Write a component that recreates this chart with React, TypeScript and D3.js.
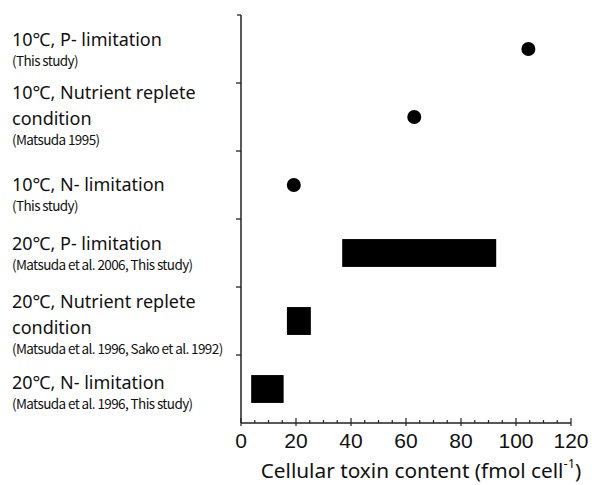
import React from "react";
import * as d3 from "d3";

// ---- data ----
const categories: string[] = [
  "10℃, P- limitation",
  "10℃, Nutrient replete condition",
  "10℃, N- limitation",
  "20℃, P- limitation",
  "20℃, Nutrient replete condition",
  "20℃, N- limitation",
];
const labelLines: string[][] = [
  ["10℃, P- limitation"],
  ["10℃, Nutrient replete", "condition"],
  ["10℃, N- limitation"],
  ["20℃, P- limitation"],
  ["20℃, Nutrient replete", "condition"],
  ["20℃, N- limitation"],
];
const sources: string[] = [
  "(This study)",
  "(Matsuda 1995)",
  "(This study)",
  "(Matsuda et al. 2006, This study)",
  "(Matsuda et al. 1996, Sako et al. 1992)",
  "(Matsuda et al. 1996, This study)",
];
const minValues: number[] = [104.5, 63, 19.2, 36.8, 16.7, 3.7];
const maxValues: number[] = [104.5, 63, 19.2, 92.8, 25.4, 15.5];
const xTicks: number[] = [0, 20, 40, 60, 80, 100, 120];
const xLabel = "Cellular toxin content (fmol cell";
const xLabelSup = "-1";

// ---- layout ----
const W = 595;
const H = 485;
const M = { left: 241, right: 571, top: 15, bottom: 423 };
const labelX = 12;
// baseline of first main line relative to band center
const labelOffsets = [-3, -18, 6, -3.5, -13.5, -0.5];
const mainFont = "'Noto Sans', 'Noto Sans CJK JP', sans-serif";

export default function App() {
  const x = d3.scaleLinear().domain([0, 120]).range([M.left, M.right]);
  const y = d3
    .scaleBand<string>()
    .domain(categories)
    .range([M.top, M.bottom])
    .paddingInner(0)
    .paddingOuter(0);
  const bw = y.bandwidth();
  const barH = bw * 0.41;
  const minor = d3.range(0, 121, 5);
  const boundaries = categories.map((c) => y(c)!);

  return (
    <svg
      width={W}
      height={H}
      style={{ position: "absolute", left: 0, top: 0, background: "#fff" }}
    >
      {/* y axis */}
      <line x1={M.left} x2={M.left} y1={M.top} y2={M.bottom} stroke="#222" strokeWidth={1.5} />
      {boundaries.map((b, i) => (
        <line key={i} x1={M.left - (i === 0 ? 4 : 5)} x2={M.left} y1={b} y2={b} stroke="#222" strokeWidth={1.3} />
      ))}
      {/* x axis */}
      <line x1={M.left} x2={M.right} y1={M.bottom} y2={M.bottom} stroke="#222" strokeWidth={1.5} />
      {minor.map((v) => (
        <line
          key={v}
          x1={x(v)}
          x2={x(v)}
          y1={M.bottom - (v % 20 === 0 ? 5 : 3)}
          y2={M.bottom + (v % 20 === 0 ? 3 : 0)}
          stroke="#222"
          strokeWidth={1.2}
        />
      ))}
      {xTicks.map((v) => (
        <text
          key={v}
          x={x(v)}
          y={448}
          textAnchor="middle"
          fontFamily="'Liberation Sans', Arial, sans-serif"
          fontSize={21}
          fill="#111"
        >
          {v}
        </text>
      ))}
      <text x={421} y={478} textAnchor="middle" fontFamily={mainFont} fontSize={20.8} fill="#111">
        {xLabel}
        <tspan dy={-10} fontSize={13}>{xLabelSup}</tspan>
        <tspan dy={10}>)</tspan>
      </text>

      {/* marks */}
      {categories.map((c, i) => {
        const cy = y(c)! + bw / 2;
        if (minValues[i] === maxValues[i]) {
          return <circle key={c} cx={x(minValues[i])} cy={cy} r={7} fill="#000" />;
        }
        return (
          <rect
            key={c}
            x={x(minValues[i])}
            y={cy - barH / 2}
            width={x(maxValues[i]) - x(minValues[i])}
            height={barH}
            fill="#000"
          />
        );
      })}

      {/* category labels */}
      {categories.map((c, i) => {
        const base = y(c)! + bw / 2 + labelOffsets[i];
        const lines = labelLines[i];
        return (
          <g key={c}>
            {lines.map((ln, j) => (
              <text key={j} x={labelX} y={base + j * 26} fontFamily={mainFont} fontSize={18} fill="#111">
                {ln}
              </text>
            ))}
            <text
              x={labelX}
              y={base + (lines.length - 1) * 26 + 20}
              fontFamily="'Noto Sans CJK JP', sans-serif"
              fontSize={13.5}
              letterSpacing={-0.6}
              fill="#111"
            >
              {sources[i]}
            </text>
          </g>
        );
      })}
    </svg>
  );
}
